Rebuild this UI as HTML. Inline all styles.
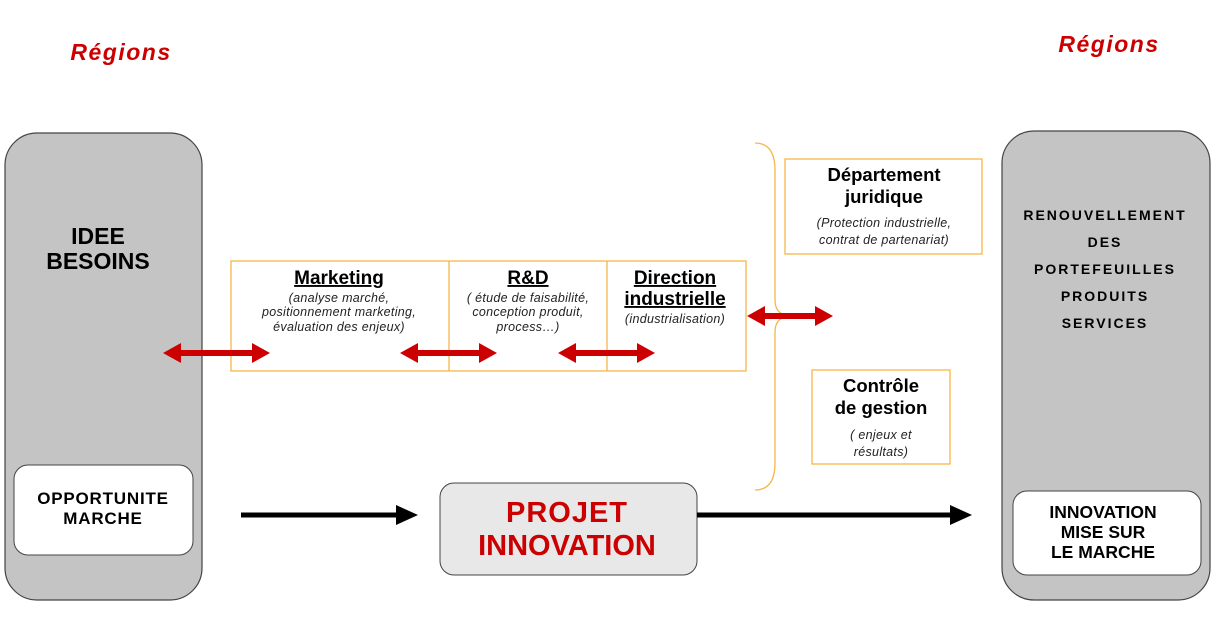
<!DOCTYPE html>
<html><head><meta charset="utf-8"><style>
html,body{margin:0;padding:0;background:#fff;}
svg{display:block;font-family:"Liberation Sans",Arial,sans-serif;}
.b{font-weight:bold;}
.i{font-style:italic;font-size:12.5px;fill:#222;letter-spacing:0.3px;}
</style></head><body>
<svg width="1220" height="642" viewBox="0 0 1220 642" xmlns="http://www.w3.org/2000/svg">
<text x="121" y="60" text-anchor="middle" class="b" font-size="23" font-style="italic" fill="#cc0000" letter-spacing="1.5">Régions</text>
<text x="1109" y="52" text-anchor="middle" class="b" font-size="23" font-style="italic" fill="#cc0000" letter-spacing="1.5">Régions</text>

<rect x="5" y="133" width="197" height="467" rx="32" fill="#c4c4c4" stroke="#444" stroke-width="1.2"/>
<rect x="1002" y="131" width="208" height="469" rx="32" fill="#c4c4c4" stroke="#444" stroke-width="1.2"/>
<text x="98" y="244" text-anchor="middle" class="b" font-size="23">IDEE</text>
<text x="98" y="269" text-anchor="middle" class="b" font-size="23">BESOINS</text>
<rect x="14" y="465" width="179" height="90" rx="14" fill="#fff" stroke="#444"/>
<text x="103" y="504" text-anchor="middle" class="b" font-size="17" letter-spacing="0.8">OPPORTUNITE</text>
<text x="103" y="524" text-anchor="middle" class="b" font-size="17" letter-spacing="0.8">MARCHE</text>

<g class="b" font-size="14" text-anchor="middle" letter-spacing="2">
<text x="1105" y="220">RENOUVELLEMENT</text>
<text x="1105" y="247">DES</text>
<text x="1105" y="274">PORTEFEUILLES</text>
<text x="1105" y="301">PRODUITS</text>
<text x="1105" y="328">SERVICES</text>
</g>
<rect x="1013" y="491" width="188" height="84" rx="14" fill="#fff" stroke="#444"/>
<g class="b" font-size="17.5" text-anchor="middle">
<text x="1103" y="518">INNOVATION</text>
<text x="1103" y="538">MISE SUR</text>
<text x="1103" y="558">LE MARCHE</text>
</g>

<rect x="440" y="483" width="257" height="92" rx="14" fill="#e8e8e8" stroke="#444"/>
<text x="567" y="522" text-anchor="middle" class="b" font-size="29" fill="#cc0000" letter-spacing="1">PROJET</text>
<text x="567" y="555" text-anchor="middle" class="b" font-size="29" fill="#cc0000">INNOVATION</text>

<line x1="241" y1="515" x2="398" y2="515" stroke="#000" stroke-width="5"/>
<polygon points="396,505 418,515 396,525" fill="#000"/>
<line x1="697" y1="515" x2="952" y2="515" stroke="#000" stroke-width="5"/>
<polygon points="950,505 972,515 950,525" fill="#000"/>

<g fill="none" stroke="#f7b548" stroke-width="1.3">
<rect x="231" y="261" width="515" height="110"/>
<line x1="449" y1="261" x2="449" y2="371"/>
<line x1="607" y1="261" x2="607" y2="371"/>
<rect x="785" y="159" width="197" height="95"/>
<rect x="812" y="370" width="138" height="94"/>
<path d="M755,143 Q775,143 775,170 L775,300 Q775,316 792,316 Q775,316 775,332 L775,463 Q775,490 755,490"/>
</g>

<g text-anchor="middle">
<text x="339" y="284" class="b" font-size="19" text-decoration="underline">Marketing</text>
<text x="339" y="302" class="i">(analyse marché,</text>
<text x="339" y="316" class="i">positionnement marketing,</text>
<text x="339" y="331" class="i">évaluation des enjeux)</text>
<text x="528" y="284" class="b" font-size="19" text-decoration="underline">R&amp;D</text>
<text x="528" y="302" class="i">( étude de faisabilité,</text>
<text x="528" y="316" class="i">conception produit,</text>
<text x="528" y="331" class="i">process…)</text>
<text x="675" y="284" class="b" font-size="19" text-decoration="underline">Direction</text>
<text x="675" y="305" class="b" font-size="19" text-decoration="underline">industrielle</text>
<text x="675" y="323" class="i">(industrialisation)</text>
<text x="884" y="181" class="b" font-size="18.5">Département</text>
<text x="884" y="203" class="b" font-size="18.5">juridique</text>
<text x="884" y="227" class="i" font-size="13.5">(Protection industrielle,</text>
<text x="884" y="244" class="i" font-size="13.5">contrat de partenariat)</text>
<text x="881" y="392" class="b" font-size="18.5">Contrôle</text>
<text x="881" y="414" class="b" font-size="18.5">de gestion</text>
<text x="881" y="439" class="i" font-size="13.5">( enjeux et</text>
<text x="881" y="456" class="i" font-size="13.5">résultats)</text>
</g>

<g fill="#cc0000">
<path d="M163,353 L181,343 L181,350 L252,350 L252,343 L270,353 L252,363 L252,356 L181,356 L181,363 Z"/>
<path d="M400,353 L418,343 L418,350 L479,350 L479,343 L497,353 L479,363 L479,356 L418,356 L418,363 Z"/>
<path d="M558,353 L576,343 L576,350 L637,350 L637,343 L655,353 L637,363 L637,356 L576,356 L576,363 Z"/>
<path d="M747,316 L765,306 L765,313 L815,313 L815,306 L833,316 L815,326 L815,319 L765,319 L765,326 Z"/>
</g>
</svg>
</body></html>
